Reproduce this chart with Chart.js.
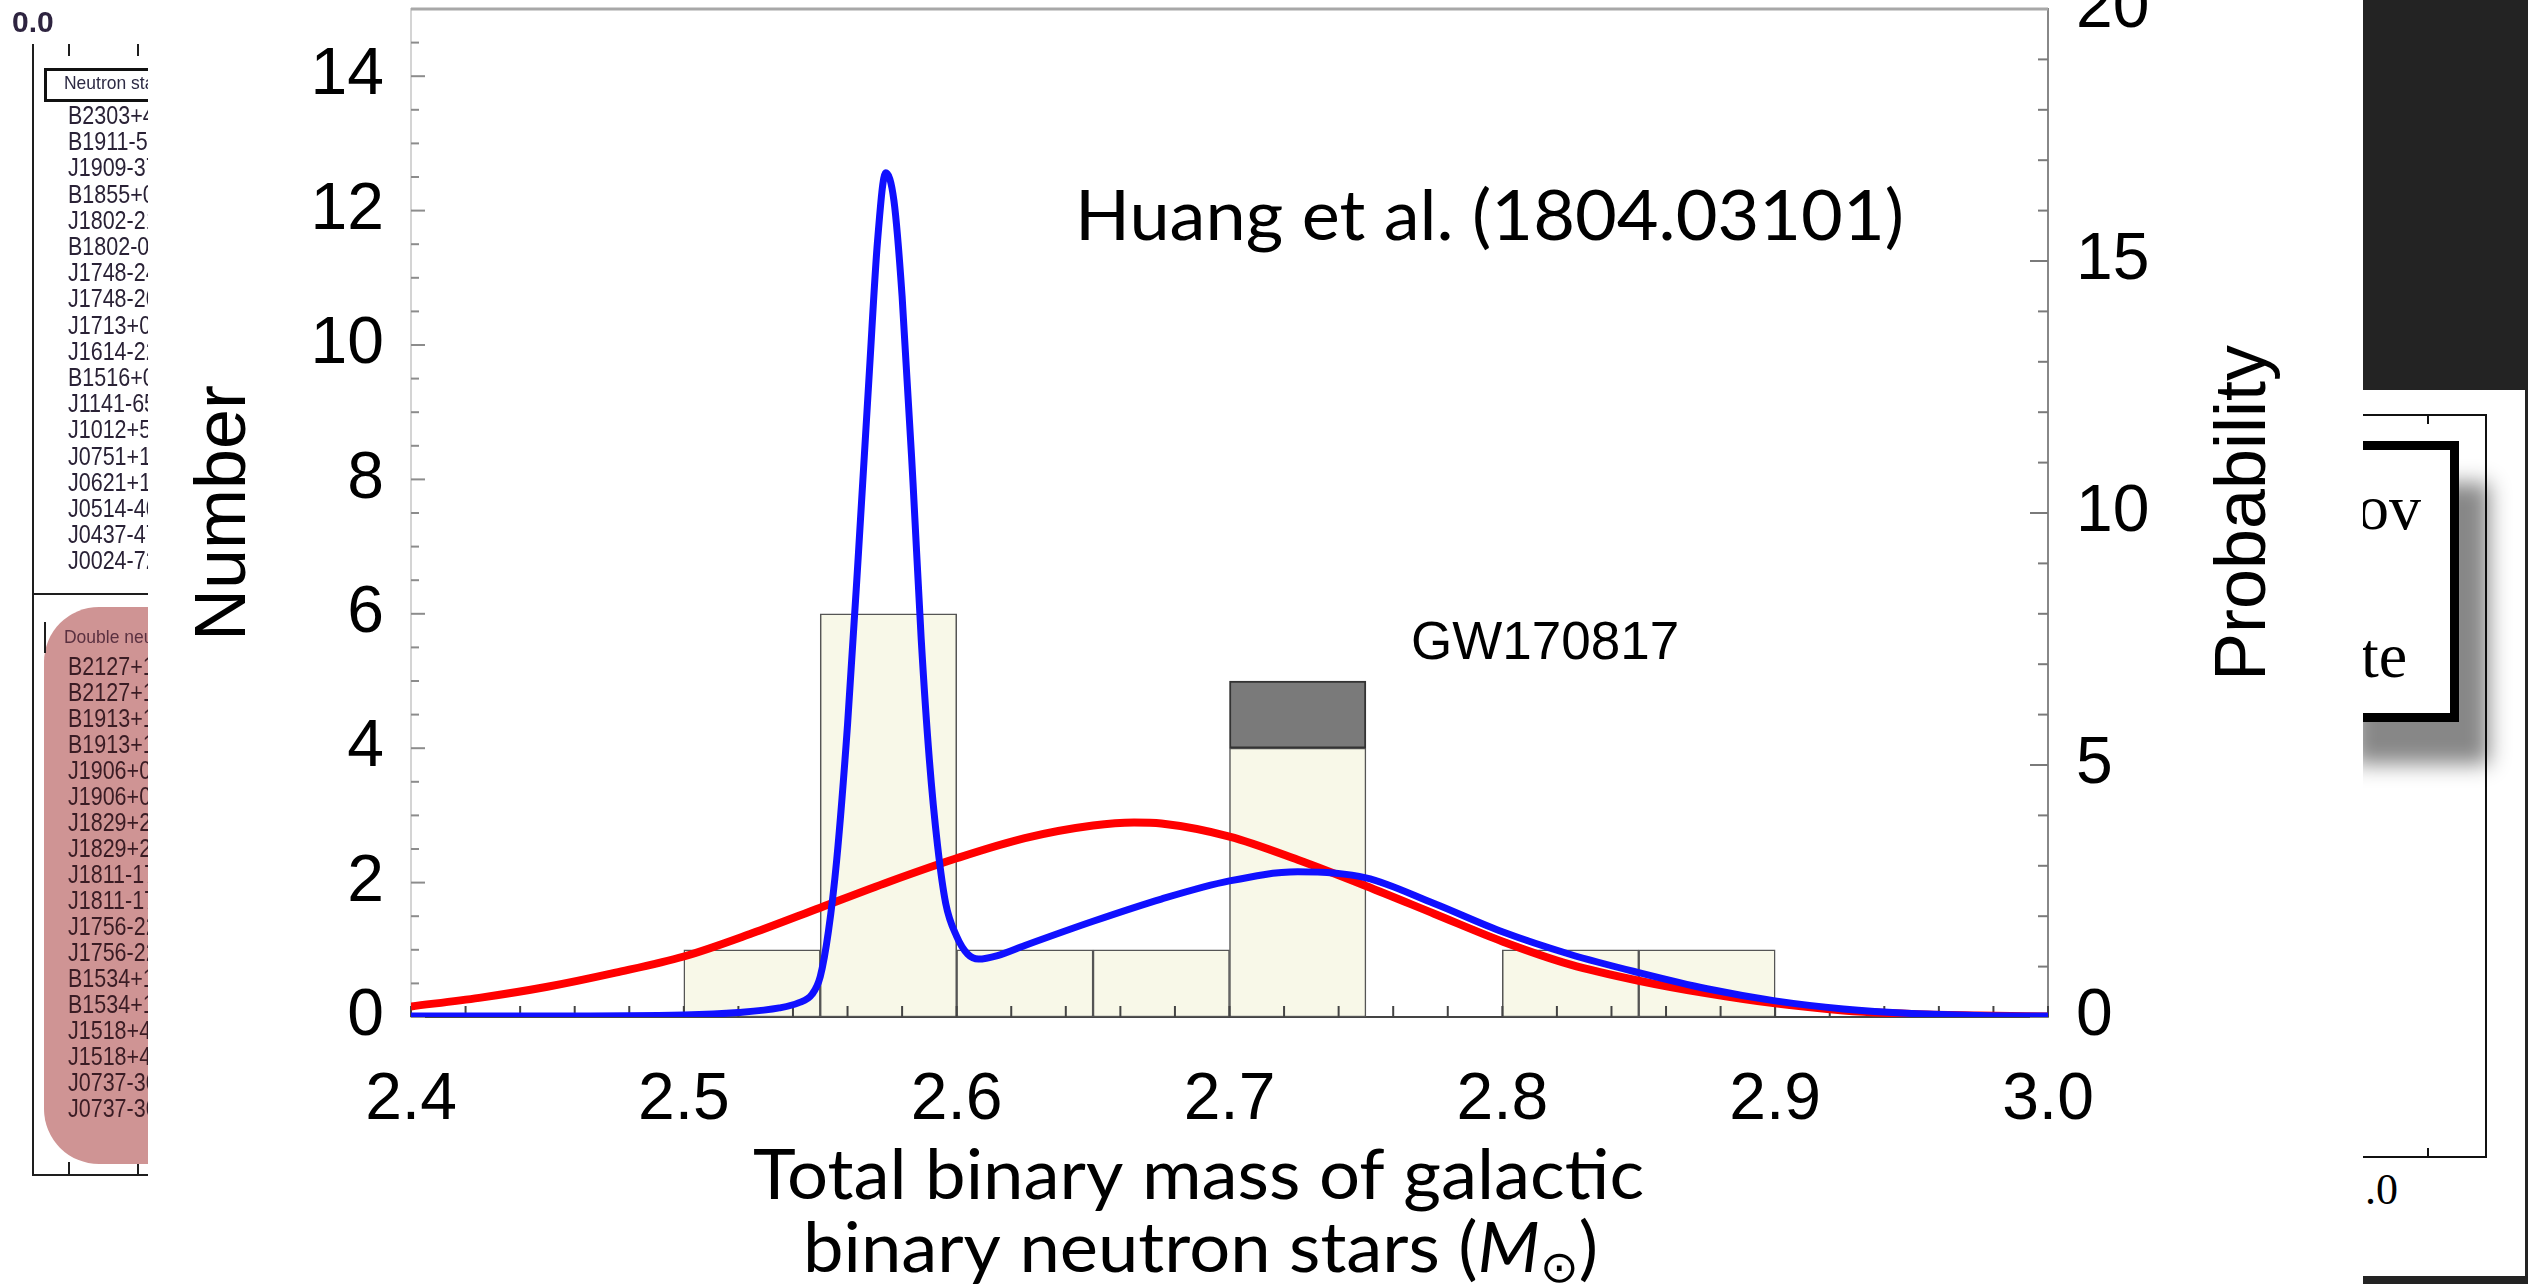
<!DOCTYPE html>
<html>
<head>
<meta charset="utf-8">
<title>Total binary mass of galactic binary neutron stars</title>
<script src="https://cdn.jsdelivr.net/npm/chart.js@4.4.1/dist/chart.umd.min.js"></script>
<style>
html, body { margin: 0; padding: 0; background: #fff; }
body { position: relative; width: 2528px; height: 1284px; overflow: hidden; }
#chart { position: absolute; left: 0; top: 0; }

#table { position: absolute; left: 0; top: 0; width: 148px; height: 1284px; overflow: hidden;
         font-family: "Liberation Sans", Arial, sans-serif; }
#table .ln { position: absolute; background: #1e1e1e; }
#table .zero { position: absolute; left: 12px; top: 5px; font: bold 30px "Liberation Sans", Arial, sans-serif; color: #2e2440; }
#table .head { position: absolute; left: 44px; top: 68px; width: 150px; height: 34px; box-sizing: border-box;
               border: 3px solid #111; }
#table .headtxt { position: absolute; left: 64px; height: 26px; line-height: 26px; font-size: 19px; color: #2d2a44;
                  white-space: nowrap; transform: scaleX(0.92); transform-origin: left center; }
#table .pink { position: absolute; left: 44px; top: 607px; width: 170px; height: 557px; background: #cf9494; border-radius: 55px; }
#table .row { position: absolute; left: 68px; height: 26px; line-height: 26px; font-size: 25px; color: #2a2236;
              white-space: nowrap; transform: scaleX(0.86); transform-origin: left center; }
#table .row.dns { color: #3a1c24; }

#side { position: absolute; left: 2363px; top: 0; width: 165px; height: 1284px; background: #232323; }
#panel { position: absolute; left: 0; top: 390px; width: 162px; height: 886px; background: #fff; overflow: hidden;
         font-family: "Liberation Serif", "Times New Roman", serif; color: #000; }
#panel .frame { position: absolute; left: -10px; top: 24px; width: 134px; height: 744px; box-sizing: border-box;
                border: 2px solid #111; border-left: none; }
#panel .tk { position: absolute; width: 2px; height: 10px; background: #111; }
#panel .box { position: absolute; left: -40px; top: 51px; width: 136px; height: 281px; box-sizing: border-box;
              border: 9px solid #000; background: #fff; box-shadow: 30px 42px 20px rgba(0,0,0,0.47); }
#panel .txt { position: absolute; font-size: 64px; line-height: 1; white-space: nowrap; }
#panel .lbl { position: absolute; left: -20px; top: 778px; font-size: 44px; line-height: 1; }
</style>
</head>
<body>
<canvas id="chart" width="2528" height="1284"></canvas>

<div id="table"></div>

<div id="side">
  <div id="panel">
    <div class="frame"></div>
    <div class="tk" style="left:64px; top:24px"></div>
    <div class="tk" style="left:64px; top:758px"></div>
    <div class="box"></div>
    <div class="txt" style="left:-6px; top:86px">ov</div>
    <div class="txt" style="left:-2px; top:234px">te</div>
    <div class="lbl">1.0</div>
  </div>
</div>

<script>
// histogram of galactic double neutron star total masses (bin centres, width 0.05)
const massBins = [2.525, 2.575, 2.625, 2.675, 2.725, 2.775, 2.825, 2.875];
const pulsarCounts = [1, 6, 1, 1, 4, 0, 1, 1];
const gwCounts = [0, 0, 0, 0, 1, 0, 0, 0];

// fitted distributions (probability density, right axis)
const redMass = [2.400, 2.425, 2.450, 2.475, 2.500, 2.525, 2.550, 2.575, 2.600, 2.625, 2.650, 2.665,
                 2.675, 2.700, 2.725, 2.750, 2.775, 2.800, 2.825, 2.850, 2.875, 2.900, 2.925, 2.950, 2.975, 3.000];
const redProb = [0.21, 0.38, 0.60, 0.88, 1.20, 1.66, 2.17, 2.68, 3.15, 3.55, 3.80, 3.86,
                 3.84, 3.58, 3.12, 2.60, 2.05, 1.50, 1.04, 0.72, 0.47, 0.27, 0.13, 0.06, 0.03, 0.01];

const blueMass = [2.400, 2.450, 2.500, 2.520, 2.535, 2.542, 2.547, 2.550, 2.553, 2.556, 2.560, 2.564,
                  2.568, 2.571, 2.574, 2.577, 2.580, 2.584, 2.587, 2.590, 2.593, 2.596, 2.600, 2.604,
                  2.608, 2.615, 2.625, 2.650, 2.675, 2.700, 2.725, 2.750, 2.775, 2.800, 2.825, 2.850,
                  2.875, 2.900, 2.925, 2.950, 2.975, 3.000];
const blueProb = [0.02, 0.02, 0.04, 0.09, 0.18, 0.28, 0.45, 0.80, 1.70, 3.10, 5.80, 9.20,
                  12.80, 15.40, 16.75, 16.20, 14.30, 10.60, 7.50, 5.10, 3.40, 2.25, 1.60, 1.25,
                  1.15, 1.22, 1.42, 1.90, 2.34, 2.70, 2.88, 2.76, 2.25, 1.69, 1.24, 0.88,
                  0.56, 0.32, 0.16, 0.07, 0.03, 0.02];

// tick labels
const massTicks = [2.4, 2.5, 2.6, 2.7, 2.8, 2.9, 3.0];
const numberTicks = [0, 2, 4, 6, 8, 10, 12, 14];
const probTicks = [0, 5, 10, 15, 20];

// pulsar list beside the plot
const nsRows = ['B2303+46', 'B1911-5958A', 'J1909-3744', 'B1855+09', 'J1802-2124', 'B1802-07',
                'J1748-2446am', 'J1748-2021B', 'J1713+0747', 'J1614-2230', 'B1516+02B', 'J1141-6545',
                'J1012+5307', 'J0751+1807', 'J0621+1002', 'J0514-4002A', 'J0437-4715', 'J0024-7204H'];
const dnsRows = ['B2127+11C', 'B2127+11C', 'B1913+16', 'B1913+16', 'J1906+0746', 'J1906+0746',
                 'J1829+2456', 'J1829+2456', 'J1811-1736', 'J1811-1736', 'J1756-2251', 'J1756-2251',
                 'B1534+12', 'B1534+12', 'J1518+4904', 'J1518+4904', 'J0737-3039A', 'J0737-3039B'];

function buildTable() {
  const t = document.getElementById('table');
  let html = '<div class="zero">0.0</div>';
  html += '<div class="ln" style="left:32px;top:44px;width:2px;height:1132px"></div>';
  html += '<div class="ln" style="left:32px;top:593px;width:120px;height:2px"></div>';
  html += '<div class="ln" style="left:32px;top:1174px;width:120px;height:2px"></div>';
  html += '<div class="ln" style="left:68px;top:44px;width:2px;height:12px"></div>';
  html += '<div class="ln" style="left:137px;top:44px;width:2px;height:12px"></div>';
  html += '<div class="ln" style="left:68px;top:1162px;width:2px;height:12px"></div>';
  html += '<div class="ln" style="left:137px;top:1162px;width:2px;height:12px"></div>';
  html += '<div class="head"></div><div class="headtxt" style="top:70px">Neutron stars</div>';
  nsRows.forEach((name, i) => {
    html += `<div class="row" style="top:${102 + i * 26.2}px">${name}</div>`;
  });
  html += '<div class="pink"></div>';
  html += '<div class="ln" style="left:44px;top:622px;width:2px;height:31px"></div>';
  html += '<div class="headtxt" style="top:624px;color:#5a3040">Double neutron</div>';
  dnsRows.forEach((name, i) => {
    html += `<div class="row dns" style="top:${653 + i * 26}px">${name}</div>`;
  });
  t.innerHTML = html;
}
buildTable();

// text drawn with a fixed overall width (condensed slide font)
function drawFitted(ctx, parts, left, baseline, width) {
  let total = 0;
  parts.forEach(p => { ctx.font = p.font; p.w = ctx.measureText(p.text).width; total += p.w; });
  ctx.save();
  ctx.translate(left, baseline);
  ctx.scale(width / total, 1);
  ctx.textAlign = 'left';
  ctx.textBaseline = 'alphabetic';
  let x = 0;
  parts.forEach(p => { ctx.font = p.font; ctx.fillText(p.text, x, p.dy || 0); x += p.w; });
  ctx.restore();
}

function drawVertical(ctx, text, x, y, font) {
  ctx.save();
  ctx.translate(x, y);
  ctx.rotate(-Math.PI / 2);
  ctx.font = font;
  ctx.textAlign = 'center';
  ctx.textBaseline = 'alphabetic';
  ctx.fillText(text, 0, 0);
  ctx.restore();
}

function line(ctx, x1, y1, x2, y2) {
  ctx.beginPath();
  ctx.moveTo(x1, y1);
  ctx.lineTo(x2, y2);
  ctx.stroke();
}

const frameDecor = {
  id: 'frameDecor',
  beforeDatasetDraw(chart, args) {
    // inward tick marks go on top of the bars, under the curves
    if (chart.data.datasets[args.index].label !== 'fit') return;
    const ctx = chart.ctx;
    const {left, right, top, bottom} = chart.chartArea;
    const x = chart.scales.x, y = chart.scales.y, yR = chart.scales.yR;
    ctx.save();
    ctx.lineWidth = 2;
    ctx.strokeStyle = '#8c8c8c';
    for (let v = 0; v <= 15; v += 0.5) {
      const py = y.getPixelForValue(v);
      line(ctx, left, py, left + (v % 2 === 0 ? 14 : 8), py);
    }
    ctx.strokeStyle = '#7a7a7a';
    for (let v = 0; v <= 20; v += 1) {
      const py = yR.getPixelForValue(v);
      line(ctx, right - (v % 5 === 0 ? 18 : 10), py, right, py);
    }
    ctx.strokeStyle = '#444';
    for (let i = 0; i <= 30; i++) {
      const px = x.getPixelForValue(2.4 + i * 0.02);
      line(ctx, px, bottom, px, bottom - 11);
    }
    ctx.strokeStyle = '#a8a8a8';
    ctx.lineWidth = 3;
    line(ctx, left, top, right, top);
    ctx.restore();
  },
  afterDraw(chart) {
    const ctx = chart.ctx;
    const {left, right, top, bottom} = chart.chartArea;
    ctx.save();
    ctx.fillStyle = '#000';

    drawVertical(ctx, 'Number', left - 166, 513, '72px "Liberation Sans", Arial, sans-serif');
    drawVertical(ctx, 'Probability', right + 217, 513, '72px "Liberation Sans", Arial, sans-serif');

    ctx.font = '53px "Liberation Sans", Arial, sans-serif';
    ctx.textAlign = 'left';
    ctx.textBaseline = 'alphabetic';
    ctx.fillText('GW170817', left + 1000, top + 650);

    const slide = '69px Lato, "Open Sans", sans-serif';
    drawFitted(ctx, [{text: 'Huang et al. (1804.03101)', font: slide}], left + 664, top + 231, 829);
    drawFitted(ctx, [{text: 'Total binary mass of galactic', font: slide}], left + 342, bottom + 182, 891);
    drawFitted(ctx, [
      {text: 'binary neutron stars (', font: slide},
      {text: 'M', font: 'italic ' + slide},
      {text: '\u2299', font: '44px "DejaVu Sans", sans-serif', dy: 10},
      {text: ')', font: slide}
    ], left + 392, bottom + 255, 795);
    ctx.restore();
  }
};

const tickFont = {family: '"Liberation Sans", Arial, sans-serif', size: 66};

// fixed axis box sizes; label overhang must not push the plot area inwards
function fixVertical(width) {
  return s => { s.width = width; s.paddingTop = 0; s.paddingBottom = 0; };
}

new Chart(document.getElementById('chart'), {
  type: 'bar',
  data: {
    datasets: [
      {
        type: 'line',
        label: 'two-component',
        yAxisID: 'yR',
        order: 0,
        data: blueMass.map((m, i) => ({x: m, y: blueProb[i]})),
        borderColor: '#1010ff',
        borderWidth: 7,
        pointRadius: 0,
        cubicInterpolationMode: 'monotone',
        fill: false
      },
      {
        type: 'line',
        label: 'fit',
        yAxisID: 'yR',
        order: 1,
        data: redMass.map((m, i) => ({x: m, y: redProb[i]})),
        borderColor: '#ff0000',
        borderWidth: 8,
        pointRadius: 0,
        cubicInterpolationMode: 'monotone',
        fill: false
      },
      {
        label: 'pulsars',
        yAxisID: 'y',
        order: 3,
        data: massBins.map((m, i) => ({x: m, y: pulsarCounts[i]})),
        backgroundColor: '#f8f8e8',
        borderColor: '#555',
        borderWidth: 1.5,
        borderSkipped: false,
        grouped: false,
        barPercentage: 1,
        categoryPercentage: 1
      },
      {
        label: 'GW170817',
        yAxisID: 'y',
        order: 2,
        data: massBins.map((m, i) => ({x: m, y: [pulsarCounts[i], pulsarCounts[i] + gwCounts[i]]}))
                      .filter((d, i) => gwCounts[i] > 0),
        backgroundColor: '#7a7a7a',
        borderColor: '#333',
        borderWidth: 2,
        borderSkipped: false,
        grouped: false,
        barPercentage: 1,
        categoryPercentage: 1
      }
    ]
  },
  options: {
    responsive: false,
    devicePixelRatio: 1,
    animation: false,
    layout: {padding: {left: 150, right: 166, top: 9, bottom: 0}},
    plugins: {legend: {display: false}, tooltip: {enabled: false}},
    scales: {
      x: {
        type: 'linear',
        min: 2.4,
        max: 3.0,
        offset: false,
        afterBuildTicks: s => { s.ticks = massTicks.map(v => ({value: v})); },
        afterFit: s => { s.height = 267; s.paddingLeft = 0; s.paddingRight = 0; },
        grid: {display: false},
        border: {color: '#444', width: 2},
        ticks: {font: tickFont, color: '#000', padding: 36, maxRotation: 0, autoSkip: false,
                callback: v => v.toFixed(1)}
      },
      y: {
        position: 'left',
        min: 0,
        max: 15,
        afterBuildTicks: s => { s.ticks = numberTicks.map(v => ({value: v})); },
        afterFit: fixVertical(261),
        grid: {display: false},
        border: {color: '#d4d4d4', width: 2},
        ticks: {font: tickFont, color: '#000', padding: 19}
      },
      yR: {
        position: 'right',
        min: 0,
        max: 20,
        afterBuildTicks: s => { s.ticks = probTicks.map(v => ({value: v})); },
        afterFit: fixVertical(314),
        grid: {display: false},
        border: {color: '#888', width: 2},
        ticks: {font: tickFont, color: '#000', padding: 20}
      }
    }
  },
  plugins: [frameDecor]
});
</script>
</body>
</html>
